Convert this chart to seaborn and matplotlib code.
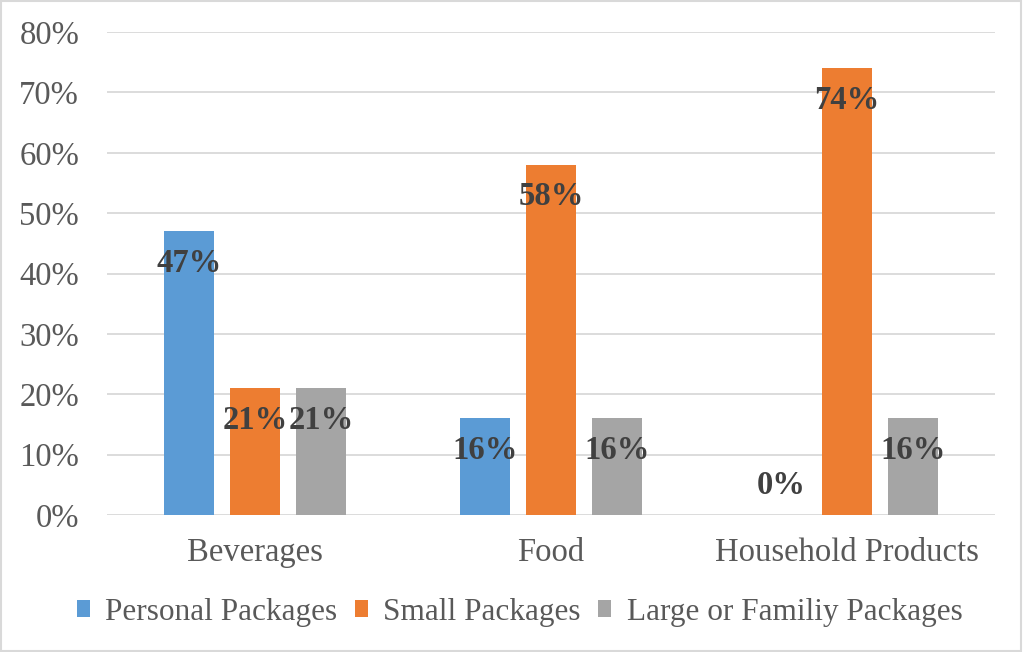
import matplotlib
matplotlib.use("Agg")
import matplotlib.pyplot as plt
import seaborn as sns
import pandas as pd
from matplotlib.patches import Rectangle

categories = ["Beverages", "Food", "Household Products"]
series_names = ["Personal Packages", "Small Packages", "Large or Familiy Packages"]
personal = [47, 16, 0]
small = [21, 58, 74]
large = [21, 16, 16]
y_ticks = [0, 10, 20, 30, 40, 50, 60, 70, 80]
colors = ["#5B9BD5", "#ED7D31", "#A5A5A5"]

rows = []
for name, vals in zip(series_names, [personal, small, large]):
    for cat, v in zip(categories, vals):
        rows.append({"Category": cat, "Series": name, "Value": v})
df = pd.DataFrame(rows)

sns.set_theme(style="white")
plt.rcParams["font.family"] = ["Liberation Serif", "DejaVu Serif"]

fig = plt.figure(figsize=(10.23, 6.52), dpi=100)
ax = fig.add_axes([0.1046, 0.2101, 0.8680, 0.7408])

sns.barplot(data=df, x="Category", y="Value", hue="Series",
            order=categories, hue_order=series_names,
            palette=colors, width=0.669, gap=0.23,
            saturation=1, ax=ax, legend=True, linewidth=0)

ax.set_ylim(0, 80)
ax.set_xlim(-0.5, 2.5)
ax.set_yticks(y_ticks)
ax.set_yticklabels([f"{t}%" for t in y_ticks])
ax.yaxis.grid(True, color="#D9D9D9", linewidth=1.3)
ax.set_axisbelow(True)
for s in ax.spines.values():
    s.set_visible(False)
ax.tick_params(axis="y", length=0, pad=20, labelsize=23.5, labelcolor="#595959")
ax.tick_params(axis="x", length=0, pad=16, labelsize=23.5, labelcolor="#595959")
ax.set_xlabel("")
ax.set_ylabel("")

# value labels near the top inside each bar
for container in ax.containers:
    for bar in container:
        h = bar.get_height()
        x = bar.get_x() + bar.get_width() / 2
        off = -23 if h > 0 else 21
        ax.annotate(f"{h:.0f}%", xy=(x, h), xytext=(0, off),
                    textcoords="offset points", ha="center", va="center",
                    fontsize=23.5, fontweight="bold", color="#404040")

handles, labels = ax.get_legend_handles_labels()
ax.legend_.remove()
fig.legend(handles, labels, loc="center", bbox_to_anchor=(0.508, 0.061),
           ncol=3, frameon=False, fontsize=22.5, labelcolor="#595959",
           handlelength=0.42, handleheight=0.42, handletextpad=0.5,
           columnspacing=0.55)

fig.patches.append(Rectangle((0.001, 0.001), 0.997, 0.997, transform=fig.transFigure,
                             fill=False, edgecolor="#D9D9D9", linewidth=1.5))

fig.savefig("out.png", dpi=100)
